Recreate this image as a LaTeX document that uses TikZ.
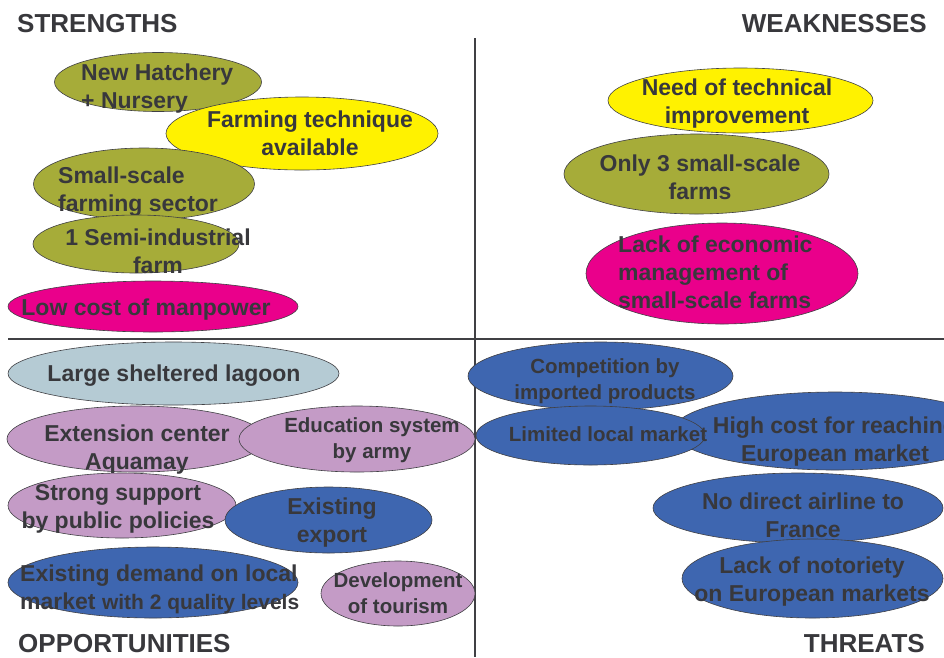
\documentclass[tikz,border=0pt]{standalone}
\usepackage{fontspec}
\setmainfont{Liberation Sans}
\usetikzlibrary{shapes.geometric}
\definecolor{cOlive}{RGB}{166,172,57}
\definecolor{cYellow}{RGB}{255,242,0}
\definecolor{cPink}{RGB}{234,0,139}
\definecolor{cLagoon}{RGB}{181,203,212}
\definecolor{cLav}{RGB}{196,155,198}
\definecolor{cBlue}{RGB}{62,102,176}
\definecolor{cText}{RGB}{56,56,60}
\definecolor{cLine}{RGB}{64,64,68}
\begin{document}
\begin{tikzpicture}[x=1pt,y=-1pt,
  el/.style={ellipse, draw=cLine, line width=0.6pt, inner sep=0pt},
  big/.style={font=\bfseries\fontsize{23}{28}\selectfont, text=cText, inner sep=0pt, align=center, yshift=-2pt},
  small/.style={font=\bfseries\fontsize{20.5}{26}\selectfont, text=cText, inner sep=0pt, align=center, yshift=-2pt},
  head/.style={font=\bfseries\fontsize{26}{30}\selectfont, text=cText, inner sep=0pt, yshift=-1pt},
  divider/.style={draw=cLine, line width=2.5pt}]
\useasboundingbox (0,0) rectangle (944,657);
\clip (0,0) rectangle (944,657);
\fill[white] (0,0) rectangle (944,657);

% dividers
\coordinate (vtop) at (475,38);
\coordinate (vbot) at (475,657);
\coordinate (hleft) at (8,339);
\coordinate (hright) at (944,339);
\draw[divider] (vtop) -- (vbot);
\draw[divider] (hleft) -- (hright);

% headings
\node[head, anchor=west] (hS) at (17,23) {STRENGTHS};
\node[head, anchor=east] (hW) at (927,23) {WEAKNESSES};
\node[head, anchor=west] (hO) at (18,643) {OPPORTUNITIES};
\node[head, anchor=east] (hT) at (925,643) {THREATS};

% strengths
\node[el, fill=cOlive, minimum width=207, minimum height=59] (s1) at (158,82) {};
\node[big, anchor=west, align=left] (s1t) at (81,87) {New Hatchery\\+ Nursery};
\node[el, fill=cYellow, minimum width=272, minimum height=73] (s2) at (302,133.5) {};
\node[big] (s2t) at (310,131) {Farming technique\\available};
\node[el, fill=cOlive, minimum width=221, minimum height=72] (s3) at (144,184) {};
\node[big, anchor=west, align=left] (s3t) at (58,190) {Small-scale\\farming sector};
\node[el, fill=cOlive, minimum width=206, minimum height=58] (s4) at (136,244) {};
\node[big] (s4t) at (158,249) {1 Semi-industrial\\farm};
\node[el, fill=cPink, minimum width=290, minimum height=51] (s5) at (153,306.5) {};
\node[big] (s5t) at (146,308) {Low cost of manpower};

% weaknesses
\node[el, fill=cYellow, minimum width=265, minimum height=65] (w1) at (740.5,100.5) {};
\node[big] (w1t) at (737,102) {Need of technical\\improvement};
\node[el, fill=cOlive, minimum width=265, minimum height=80] (w2) at (696.5,174) {};
\node[big] (w2t) at (700,175) {Only 3 small-scale\\farms};
\node[el, fill=cPink, minimum width=272, minimum height=101] (w3) at (722,273.5) {};
\node[big, anchor=west, align=left] (w3t) at (618,270.5) {Lack of economic\\management of\\small-scale farms};

% opportunities
\node[el, fill=cLagoon, minimum width=331, minimum height=63] (o1) at (173.5,373.5) {};
\node[big] (o1t) at (174,374) {Large sheltered lagoon};
\node[el, fill=cLav, minimum width=258, minimum height=66] (o2) at (136,439) {};
\node[big] (o2t) at (137,447.5) {Extension center\\Aquamay};
\node[el, fill=cLav, minimum width=236, minimum height=66] (o3) at (357,439) {};
\node[small] (o3t) at (372,438.5) {Education system\\by army};
\node[el, fill=cLav, minimum width=228, minimum height=65] (o4) at (122,505.5) {};
\node[big] (o4t) at (118,507) {Strong support\\by public policies};
\node[el, fill=cBlue, minimum width=207, minimum height=66] (o5) at (328.5,520) {};
\node[big] (o5t) at (332,521) {Existing\\export};
\node[el, fill=cBlue, minimum width=290, minimum height=71] (o6) at (153,582.5) {};
\node[big, anchor=west, align=left] (o6t) at (20,587.5) {Existing demand on local\\market {\fontsize{21}{28}\selectfont with 2 quality levels}};
\node[el, fill=cLav, minimum width=154, minimum height=65] (o7) at (398,593.5) {};
\node[small] (o7t) at (398,591.5) {Development\\of tourism};

% threats
\node[el, fill=cBlue, minimum width=265, minimum height=68] (t1) at (600.5,376) {};
\node[small] (t1t) at (605,379) {Competition by\\imported products};
\node[el, fill=cBlue, minimum width=324, minimum height=78] (t2) at (835,431) {};
\node[big] (t2t) at (835,440) {High cost for reaching\\European market};
\node[el, fill=cBlue, minimum width=229, minimum height=59] (t3) at (590.5,435.5) {};
\node[small] (t3t) at (608,432) {Limited local market};
\node[el, fill=cBlue, minimum width=290, minimum height=70] (t4) at (798,508) {};
\node[big] (t4t) at (803,513.5) {No direct airline to\\France};
\node[el, fill=cBlue, minimum width=261, minimum height=79] (t5) at (812.5,578.5) {};
\node[big] (t5t) at (812,580) {Lack of notoriety\\on European markets};
\end{tikzpicture}
\end{document}
